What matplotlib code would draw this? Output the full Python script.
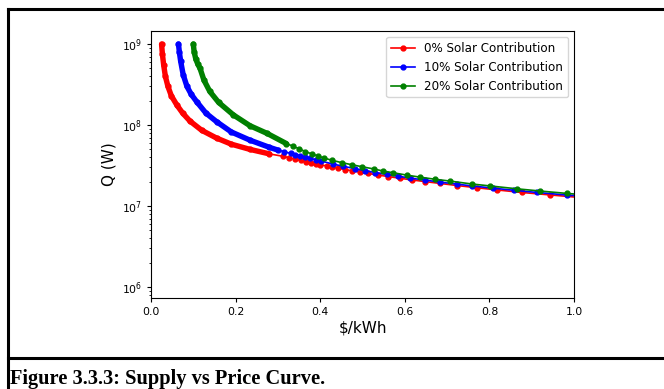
#!/usr/bin/env python
import matplotlib
matplotlib.use('Agg')
import matplotlib.pyplot as plt
from matplotlib.lines import Line2D
import numpy as np

# price ($/kWh) and supply Q (W)
red_price = [0.025, 0.027, 0.030, 0.034, 0.040, 0.048, 0.061, 0.075, 0.092, 0.12,
             0.155, 0.19, 0.234, 0.28, 0.313, 0.327, 0.340, 0.354, 0.366, 0.378,
             0.389, 0.400, 0.415, 0.427, 0.443, 0.459, 0.474, 0.494, 0.514, 0.537,
             0.561, 0.589, 0.616, 0.648, 0.683, 0.723, 0.770, 0.817, 0.876, 0.943, 1.02]
red_q = [1.0e9, 7.5e8, 5.5e8, 4.0e8, 3.0e8, 2.3e8, 1.77e8, 1.4e8, 1.12e8, 8.6e7,
         6.9e7, 5.8e7, 5.0e7, 4.4e7, 4.1e7, 3.93e7, 3.79e7, 3.65e7, 3.53e7, 3.42e7,
         3.33e7, 3.24e7, 3.12e7, 3.03e7, 2.92e7, 2.82e7, 2.73e7, 2.62e7, 2.52e7, 2.41e7,
         2.31e7, 2.2e7, 2.1e7, 2.0e7, 1.9e7, 1.79e7, 1.68e7, 1.58e7, 1.47e7, 1.37e7, 1.265e7]

blue_price = [0.065, 0.067, 0.070, 0.076, 0.085, 0.095, 0.108, 0.13, 0.155, 0.19,
              0.234, 0.28, 0.30, 0.315, 0.33, 0.341, 0.352, 0.364, 0.376, 0.389,
              0.403, 0.431, 0.455, 0.482,
              0.506, 0.530, 0.557, 0.585, 0.612, 0.648, 0.683, 0.723, 0.758, 0.809,
              0.857, 0.912, 0.983, 1.02]
blue_q = [1.0e9, 8.0e8, 6.2e8, 4.2e8, 3.0e8, 2.4e8, 1.94e8, 1.4e8, 1.1e8, 8.2e7,
          6.5e7, 5.3e7, 4.9e7, 4.7e7, 4.45e7, 4.32e7, 4.2e7, 4.03e7, 3.88e7, 3.72e7,
          3.58e7, 3.29e7, 3.09e7, 2.89e7,
          2.73e7, 2.59e7, 2.455e7, 2.33e7, 2.21e7, 2.09e7, 1.97e7, 1.865e7, 1.77e7, 1.66e7,
          1.565e7, 1.47e7, 1.365e7, 1.32e7]

green_price = [0.100, 0.102, 0.106, 0.111, 0.116, 0.125, 0.139, 0.16, 0.195, 0.234,
               0.274, 0.32, 0.335, 0.35, 0.365, 0.38, 0.395, 0.41, 0.427, 0.451,
               0.474, 0.498, 0.526, 0.549,
               0.573, 0.604, 0.636, 0.671, 0.707, 0.758, 0.801, 0.865, 0.920, 0.983, 1.02]
green_q = [1.0e9, 8.0e8, 6.5e8, 5.6e8, 5.0e8, 3.6e8, 2.6e8, 1.9e8, 1.33e8, 9.8e7,
           7.9e7, 5.9e7, 5.5e7, 5.1e7, 4.7e7, 4.4e7, 4.15e7, 3.9e7, 3.68e7, 3.43e7,
           3.24e7, 3.06e7, 2.87e7, 2.7e7,
           2.57e7, 2.41e7, 2.27e7, 2.14e7, 2.03e7, 1.87e7, 1.77e7, 1.63e7, 1.53e7, 1.43e7, 1.38e7]

labels = ['0% Solar Contribution', '10% Solar Contribution', '20% Solar Contribution']
colors = ['red', 'blue', 'green']
# below these prices the markers in the original overlap into a solid band
dense_end = [0.28, 0.30, 0.32]

caption = 'Figure 3.3.3: Supply vs Price Curve.'


def main():
    fig = plt.figure(figsize=(6.64, 3.89), dpi=100)
    ax = fig.add_axes([0.2274, 0.2339, 0.8645 - 0.2274, 0.9203 - 0.2339])

    series = [(red_price, red_q), (blue_price, blue_q), (green_price, green_q)]
    for (p, q), lab, c, pend in zip(series, labels, colors, dense_end):
        p = np.array(p)
        q = np.array(q)
        ax.plot(p, q, '.-', color=c, label=lab, markersize=7, linewidth=1.2)
        m = p <= pend
        ax.plot(p[m], q[m], '-', color=c, linewidth=3.9, solid_capstyle='round')

    ax.set_yscale('log')
    ax.set_xlim(0, 1.0)
    ax.set_ylim(7.3e5, 1.45e9)
    ax.set_xticks([0.0, 0.2, 0.4, 0.6, 0.8, 1.0])
    ax.tick_params(labelsize=7.8, length=2.8, width=0.8)
    ax.tick_params(which='minor', length=1.6, width=0.6)
    ax.set_xlabel('$/kWh', fontsize=11, labelpad=3)
    ax.set_ylabel('Q (W)', fontsize=11, labelpad=4)
    ax.legend(loc='upper right', fontsize=8.6, handlelength=2.0)

    # frame of the document table around the figure
    lw = 2.2
    fig.add_artist(Line2D([0.012, 1.0], [0.977, 0.977], color='black', linewidth=lw))
    fig.add_artist(Line2D([0.012, 0.012], [0.0, 0.977], color='black', linewidth=lw))
    fig.add_artist(Line2D([0.012, 1.0], [0.0797, 0.0797], color='black', linewidth=lw))
    fig.text(0.015, 0.012, caption, family='Liberation Serif', weight='bold',
             fontsize=14.7, va='baseline', ha='left')

    fig.savefig('out.png', dpi=100)


main()
